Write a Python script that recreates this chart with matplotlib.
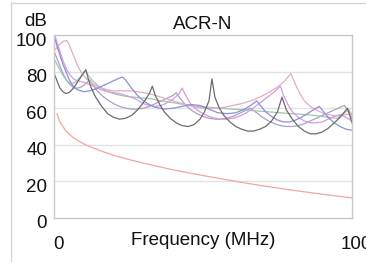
import matplotlib
matplotlib.use("Agg")
import matplotlib.pyplot as plt
import matplotlib.transforms as mtransforms
from matplotlib.lines import Line2D

plt.rcParams['font.family'] = ['Liberation Sans', 'DejaVu Sans']

# ---- data ----
title = "ACR-N"
x_label = "Frequency (MHz)"
y_unit = "dB"
x_ticks = [0, 100]
y_ticks = [0, 20, 40, 60, 80, 100]

# dark gray pair
fA = [0.3, 1, 2, 3, 4, 5, 6, 7, 8, 9, 10, 10.7, 11.5, 12.5, 14, 16, 18, 20, 22, 24, 26, 28, 30, 32, 33, 34,
      35.5, 37, 39, 41, 43, 45, 47, 49, 50.5, 52, 53, 54, 55.5, 57, 59, 61, 63, 65, 67, 69, 71, 73, 75, 76.5,
      78, 80, 82, 84, 86, 88, 90, 92, 94, 96, 97.5, 98.5, 100]
vA = [78, 75, 71, 69, 68, 68.5, 70, 72, 74.5, 77, 79.5, 81, 76, 71, 66, 61, 57, 55, 54, 54.5, 56, 59, 63, 68, 72, 67,
      62, 58, 54.5, 52, 50.5, 50, 51, 54, 58, 64, 76, 66, 60, 56, 52.5, 50, 48.5, 47.5, 47.5, 48.5, 50, 53, 58, 66,
      59, 54, 50, 47.5, 46, 46, 47, 49, 52, 55, 58, 60, 52]

# purple pair
fB = [0.3, 1, 2, 3, 4, 5, 6, 7, 8, 10, 12, 14, 16, 18, 20, 22, 23, 24, 26, 28, 30, 32, 34, 37, 40, 43, 46, 49,
      52, 55, 58, 61, 64, 66, 68, 69.5, 71, 73, 75, 77, 79, 81, 83, 85, 87, 89, 90.5, 92, 94, 96, 98, 100]
vB = [98, 94, 89, 84, 80, 76, 73, 71, 70, 69, 69.5, 70.5, 72, 73.5, 75, 76.5, 77, 75.5, 71, 67, 64, 62, 60.5, 59.5,
      60, 61, 62, 61.5, 59.5, 57.5, 57, 57.5, 59.5, 61.5, 64, 61, 58, 55.5, 53.5, 52.5, 52.5, 53.5, 55, 57, 59, 61,
      58, 55, 52, 50, 48.5, 48]

# magenta pair
fC = [0.3, 1, 2, 3, 4, 5, 6, 7, 8, 10, 12, 14, 16, 18, 20, 22, 24, 26, 28, 30, 32, 34, 36, 38, 40, 42, 43, 44.5,
      46, 48, 50, 52, 54, 56, 58, 60, 62, 64, 66, 68, 70, 72, 74, 76, 77, 78.5, 80, 82, 84, 86, 88, 90, 92, 94,
      96, 98, 100]
vC = [100, 96, 91, 86, 82, 79, 77, 75.5, 75, 74, 73, 71.5, 70, 69, 68.5, 68, 67, 66, 64.5, 62.5, 61.5, 61, 61.5,
      63, 65, 68, 71, 66, 62, 59, 57, 55.5, 54.5, 54, 54, 54.5, 55.5, 57, 59, 61.5, 64, 66.5, 69, 72, 67, 62, 58,
      55, 53, 52, 52, 52.5, 54, 55.5, 56.5, 55, 53]

# green pair
fD = [0.3, 1, 2, 3, 4, 5, 6, 7, 8, 9, 10, 10.8, 11.5, 13, 15, 17, 19, 21, 24, 27, 30, 33, 36, 40, 44, 48, 52,
      56, 60, 64, 68, 72, 76, 80, 84, 88, 92, 95, 97, 99, 100]
vD = [86, 84, 81, 78, 75.5, 74, 73.5, 74, 75.5, 77.5, 79.5, 80, 78, 75, 72, 70, 68.5, 67.5, 66.5, 66, 65.5, 65, 64,
      63, 62, 61, 60.5, 60, 59.5, 59, 58.5, 58, 57.5, 57, 56.5, 56, 55, 54.5, 57, 59, 56]

# light pink pair
fE = [0.3, 1, 2, 3, 4.3, 5, 6, 7, 8, 9, 10, 12, 14, 16, 18, 20, 22, 24, 26, 28, 30, 33, 36, 39, 42, 45, 48, 51,
      54, 57, 60, 63, 66, 69, 72, 75, 77.5, 79.5, 81, 82.5, 84, 86, 88, 90, 92, 94, 96, 98, 100]
vE = [92, 93, 95, 96.5, 97, 95, 91, 87, 83, 80, 77.5, 74.5, 72.5, 71, 70, 69.5, 69.5, 69.5, 69.5, 69, 68.5, 67.5,
      66, 64.5, 63, 61.5, 60.5, 60, 60, 60.5, 61.5, 62.5, 64, 66, 68.5, 71.5, 75, 79, 73, 68, 64, 61, 59, 57.5,
      56.5, 56, 56, 56.5, 57]

# gray-violet pair
fF = [0.3, 1, 2, 3, 4, 5, 6, 7, 8, 9, 10, 11, 12, 13, 14, 16, 18, 20, 22, 24, 26, 28, 30, 32, 34, 36, 38, 40, 41,
      42, 44, 46, 48, 50, 52, 54, 56, 58, 60, 62, 64, 66, 68, 70, 72, 74, 76, 78, 80, 82, 84, 86, 88, 90, 92, 94,
      96, 97.5, 99, 100]
vF = [90, 87, 83, 79, 76, 73.5, 72, 71, 71, 71.5, 72.5, 74, 75.5, 73, 70.5, 67, 64.5, 62.5, 61, 60, 59.5, 59.5, 60,
      61, 62.5, 64, 65.5, 67, 68.5, 66, 62, 59, 57, 55.5, 54.5, 54, 54, 54.5, 55.5, 57, 58.5, 60, 57.5, 55, 53,
      51.5, 50.5, 50, 50, 50.5, 51.5, 53, 54.5, 56, 57.5, 59, 60.5, 61.5, 58, 54]

# limit line
fL = [1, 2, 4, 6, 8, 10, 12, 16, 20, 25, 31.25, 40, 50, 62.5, 70, 80, 90, 100]
vL = [57, 52.5, 47.5, 44.5, 42.3, 40.5, 39, 36.5, 34.3, 32, 29.5, 26.3, 23.2, 19.6, 17.6, 15.2, 13, 11]

series = [
    (fF, vF, '#a8a2c6'),
    (fD, vD, '#9cc8ac'),
    (fE, vE, '#e8aac4'),
    (fC, vC, '#d49ce0'),
    (fB, vB, '#8e8ed8'),
    (fA, vA, '#6c6c6c'),
]

# ---- figure ----
W, H = 366, 262
fig = plt.figure(figsize=(W / 100, H / 100), dpi=100)
ax = fig.add_axes([54 / W, 1 - 218 / H, (352 - 54) / W, (218 - 35) / H])

for y in [20, 40, 60, 80]:
    ax.axhline(y, color='#e2e2e2', lw=1.0, zorder=0)

ax.plot(fL, vL, color='#f2a4a4', lw=0.9)
for f, v, c in series:
    ax.plot(f, v, color=c, lw=0.9)

ax.set_xlim(0, 100)
ax.set_ylim(0, 100)
ax.set_xticks(x_ticks)
ax.set_yticks(y_ticks)
ax.tick_params(length=0, labelsize=13.5, colors='#111111')
ax.tick_params(axis='y', pad=5)
ax.tick_params(axis='x', pad=13)
for s in ax.spines.values():
    s.set_color('#c8c8c8')
    s.set_linewidth(1.0)

off_x = mtransforms.ScaledTranslation(4 / 100, 0, fig.dpi_scale_trans)
for lab in ax.get_xticklabels():
    lab.set_transform(lab.get_transform() + off_x)
off_y = mtransforms.ScaledTranslation(0, -4 / 100, fig.dpi_scale_trans)
for lab in ax.get_yticklabels():
    lab.set_transform(lab.get_transform() + off_y)

ax.set_xlabel(x_label, fontsize=13.5, color='#111111')
ax.xaxis.set_label_coords(0.5, -0.075)
ax.set_title(title, fontsize=13.5, color='#111111', pad=4)
fig.text(36 / W, 1 - 21 / H, y_unit, fontsize=13.5, ha='center', va='center', color='#111111')

# outer frame
fig.add_artist(Line2D([11 / W, 11 / W], [0, 1 - 3 / H], transform=fig.transFigure, color='#d4d4d4', lw=1.0))
fig.add_artist(Line2D([11 / W, 1], [1 - 3 / H, 1 - 3 / H], transform=fig.transFigure, color='#d4d4d4', lw=1.0))

fig.savefig('out.png', dpi=100)
